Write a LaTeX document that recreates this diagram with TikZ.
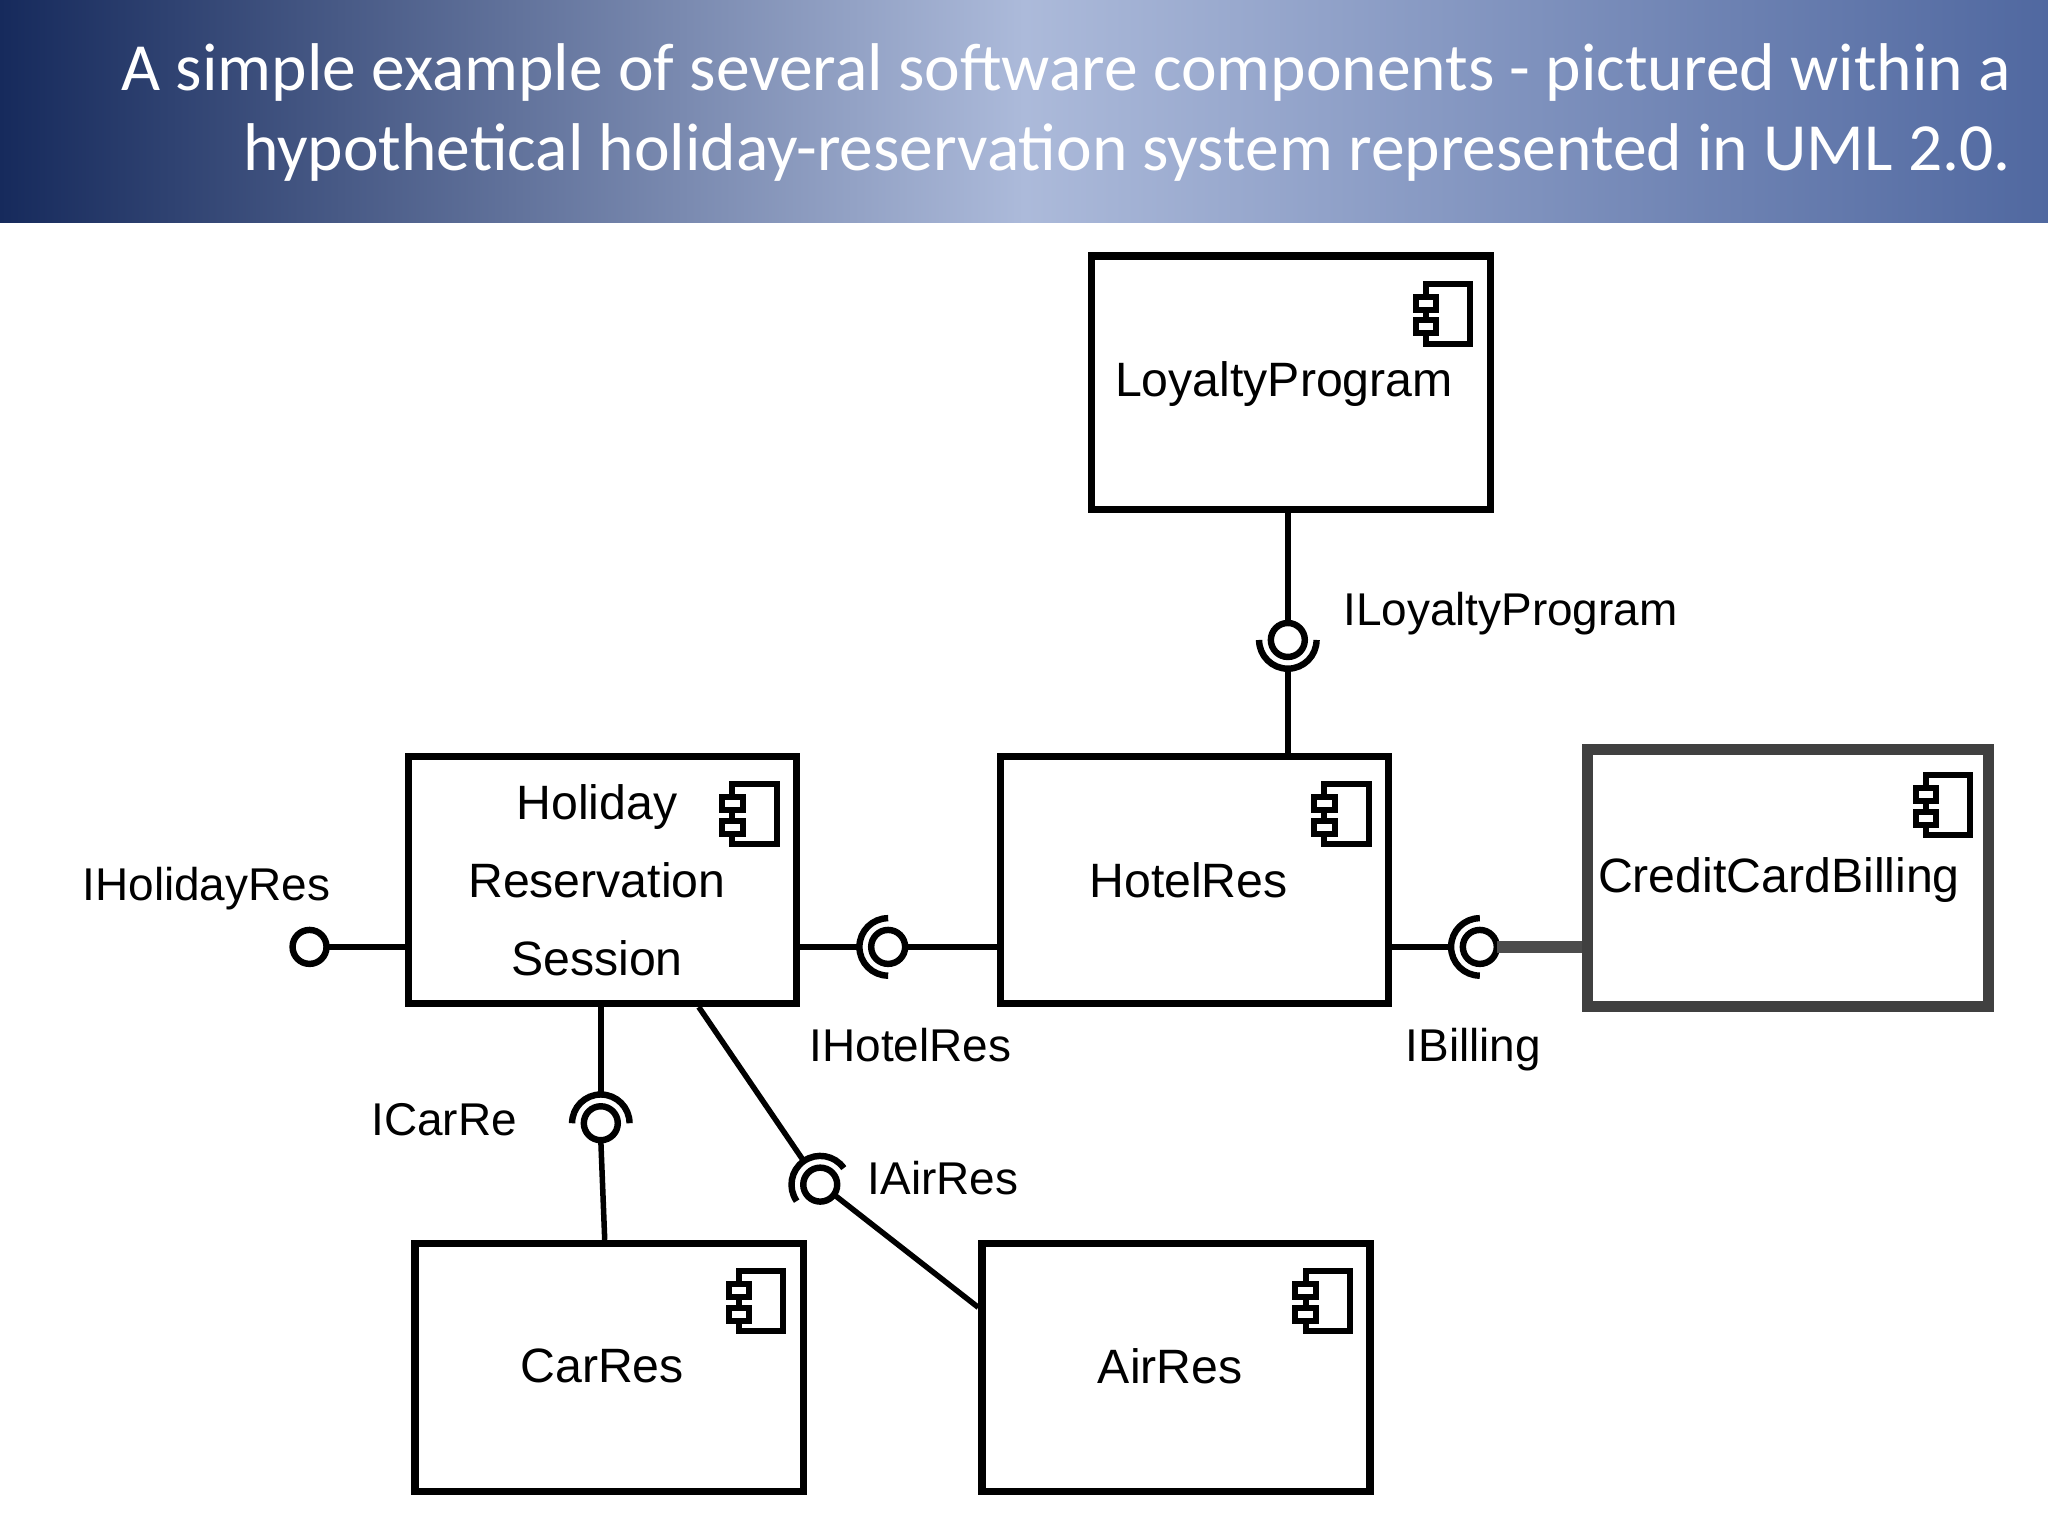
\documentclass[tikz,border=0pt]{standalone}
\usepackage{fontspec}
\usetikzlibrary{calc}
\setmainfont{Liberation Sans}
\newfontfamily\titlefont{Carlito}
\begin{document}
\begin{tikzpicture}[x=0.01cm,y=0.01cm,
  lbl/.style={font=\fontsize{10}{13}\selectfont},
  conn/.style={line width=1.2pt},
  ball/.style={line width=1.4pt},
  box/.style={draw,line width=1.6pt,inner sep=0pt},
  ctext/.style={font=\fontsize{10.5}{14}\selectfont}]
\useasboundingbox (0,0) rectangle (1568,1176);
\fill[white] (0,0) rectangle (1568,1176);
\shade[left color={rgb,255:red,22;green,42;blue,92},right color={rgb,255:red,172;green,186;blue,218}] (0,1006) rectangle (784,1176);
\shade[left color={rgb,255:red,172;green,186;blue,218},right color={rgb,255:red,80;green,104;blue,160}] (784,1006) rectangle (1568,1176);
\node[anchor=east,align=right,text=white,font=\titlefont\fontsize{14.7}{17.5}\selectfont] (title) at (1552,1090) {A simple example of several software components - pictured within a\\hypothetical holiday-reservation system represented in UML 2.0.};
\newcommand{\compicon}[1]{%
  \draw[line width=1.3pt] ($(#1.north east)+(-52,-24)$) rectangle ($(#1.north east)+(-18,-70)$);
  \draw[line width=1.3pt,fill=white] ($(#1.north east)+(-60,-34)$) rectangle ($(#1.north east)+(-44,-44)$);
  \draw[line width=1.3pt,fill=white] ($(#1.north east)+(-60,-52)$) rectangle ($(#1.north east)+(-44,-62)$);}
\node[box,minimum width=3.05cm,minimum height=1.94cm,anchor=south west] (loy) at (833,783) {};
\node[ctext] (loyt) at (983,882) {LoyaltyProgram};
\node[box,minimum width=2.97cm,minimum height=1.89cm,anchor=south west] (hol) at (310,405) {};
\node[align=center,font=\fontsize{10.5}{17}\selectfont] (holt) at (457,502) {Holiday\\Reservation\\Session};
\node[box,minimum width=2.97cm,minimum height=1.89cm,anchor=south west] (hot) at (763,405) {};
\node[ctext] (hott) at (910,502) {HotelRes};
\node[draw=black!75,line width=2.4pt,inner sep=0pt,minimum width=3.07cm,minimum height=1.97cm,anchor=south west] (ccb) at (1211,401) {};
\node[ctext] (ccbt) at (1362,502) {CreditCardBilling};
\node[box,minimum width=2.97cm,minimum height=1.9cm,anchor=south west] (car) at (315,31) {};
\node[ctext] (cart) at (461,130) {CarRes};
\node[box,minimum width=2.97cm,minimum height=1.9cm,anchor=south west] (air) at (749,31) {};
\node[ctext] (airt) at (896,130) {AirRes};
\compicon{loy}\compicon{hol}\compicon{hot}\compicon{ccb}\compicon{car}\compicon{air}
\coordinate (bh) at (237,451);
\coordinate (bho) at (680,451);
\coordinate (bl) at (986,686);
\coordinate (bb) at (1133,451);
\coordinate (bc) at (460,316);
\coordinate (ba) at (628,269);
\foreach \c in {bh,bho,bl,bb,bc,ba}{\draw[ball] (\c) circle (13);}
\draw[conn] ($(bh)+(13,0)$) -- (hol.west |- bh);
\node[lbl] (lh) at (158,496) {IHolidayRes};
\draw[ball] (bho) ++(0,22) arc (90:270:22);
\draw[conn] (hol.east |- bho) -- ($(bho)+(-22,0)$);
\draw[conn] ($(bho)+(13,0)$) -- (hot.west |- bho);
\node[lbl] (lho) at (697,376) {IHotelRes};
\draw[ball] (bl) ++(-22,0) arc (180:360:22);
\draw[conn] (loy.south -| bl) -- ($(bl)+(0,13)$);
\draw[conn] ($(bl)+(0,-22)$) -- (hot.north -| bl);
\node[lbl,anchor=west] (lly) at (1016,706) {ILoyaltyProgram};
\draw[ball] (bb) ++(0,22) arc (90:270:22);
\draw[conn] (hot.east |- bb) -- ($(bb)+(-22,0)$);
\draw[line width=2.6pt,black!70] ($(bb)+(13,0)$) -- (ccb.west |- bb);
\node[lbl] (lb) at (1128,372) {IBilling};
\draw[ball] (bc) ++(22,0) arc (0:180:22);
\draw[conn] (hol.south -| bc) -- ($(bc)+(0,22)$);
\draw[conn] ($(bc)+(0,-13)$) -- (car.north -| 463,0);
\node[lbl] (lc) at (340,319) {ICarRe};
\draw[ball] (ba) ++(35:22) arc (35:215:22);
\coordinate (hs) at (535,405);
\draw[conn] (hs) -- ($(ba)+(125:22)$);
\coordinate (ae) at (749,175);
\draw[conn] ($(ba)+(-36:13)$) -- (ae);
\node[lbl,anchor=west] (la) at (652,274) {IAirRes};
\end{tikzpicture}
\end{document}
